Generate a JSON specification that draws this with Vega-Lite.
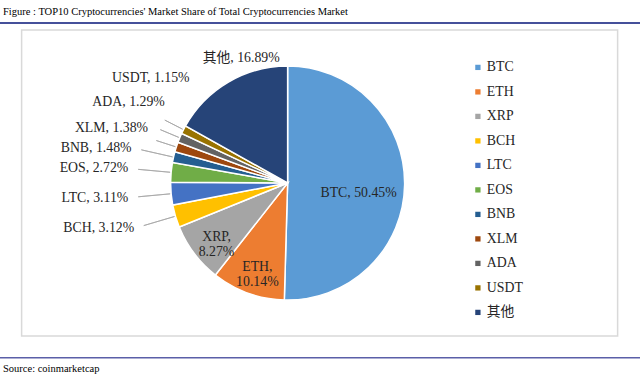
{
  "$schema": "https://vega.github.io/schema/vega-lite/v6.json",
  "background": "white",
  "padding": {"left": 0, "right": 0, "top": 6, "bottom": 0},
  "config": {"view": {"stroke": null}, "font": "Liberation Serif"},
  "title": {"text": "Figure : TOP10 Cryptocurrencies' Market Share of Total Cryptocurrencies Market", "anchor": "start", "frame": "bounds", "dx": 3, "fontSize": 10.5, "fontWeight": "normal", "font": "Liberation Serif", "color": "#000000", "offset": 5},
  "data": {"values": [
    {"name": "BTC", "share": 50.45, "rank": 1, "label": "BTC, 50.45%"},
    {"name": "ETH", "share": 10.14, "rank": 2, "label": "ETH,\n10.14%"},
    {"name": "XRP", "share": 8.27, "rank": 3, "label": "XRP,\n8.27%"},
    {"name": "BCH", "share": 3.12, "rank": 4, "label": "BCH, 3.12%"},
    {"name": "LTC", "share": 3.11, "rank": 5, "label": "LTC, 3.11%"},
    {"name": "EOS", "share": 2.72, "rank": 6, "label": "EOS, 2.72%"},
    {"name": "BNB", "share": 1.48, "rank": 7, "label": "BNB, 1.48%"},
    {"name": "XLM", "share": 1.38, "rank": 8, "label": "XLM, 1.38%"},
    {"name": "ADA", "share": 1.29, "rank": 9, "label": "ADA, 1.29%"},
    {"name": "USDT", "share": 1.15, "rank": 10, "label": "USDT, 1.15%"},
    {"name": "其他", "share": 16.89, "rank": 11, "label": "其他, 16.89%"}
  ]},
  "spacing": 5,
  "vconcat": [
    {
      "width": 640, "height": 2,
      "view": {"fill": "#45509a", "stroke": null},
      "mark": {"type": "point", "size": 0, "opacity": 0},
      "encoding": {}
    },
    {
      "spacing": 15,
      "center": true,
      "vconcat": [
        {
          "width": 596, "height": 306,
          "view": {"stroke": "#d9d9d9", "strokeWidth": 1.5, "fill": "white"},
          "layer": [
            {
              "mark": {"type": "arc", "radius": 117, "stroke": "white", "strokeWidth": 1.5, "xOffset": -32},
              "encoding": {
                "theta": {"field": "share", "type": "quantitative", "stack": true},
                "order": {"field": "rank", "type": "quantitative"},
                "color": {"field": "name", "type": "nominal",
                  "scale": {"domain": ["BTC", "ETH", "XRP", "BCH", "LTC", "EOS", "BNB", "XLM", "ADA", "USDT", "其他"],
                            "range": ["#5B9BD5", "#ED7D31", "#A5A5A5", "#FFC000", "#4472C4", "#70AD47", "#255E91", "#9E480E", "#636363", "#997300", "#264478"]},
                  "legend": {"title": null, "orient": "none", "legendX": 471, "legendY": 38.5, "symbolType": "square", "symbolSize": 28, "symbolStrokeWidth": 0, "labelFont": "Liberation Serif, Noto Sans CJK SC", "labelFontSize": 13.8, "labelColor": "#262626", "rowPadding": 9.5, "labelOffset": 2, "padding": 0}}
              }
            },
            {
              "mark": {"type": "arc", "radius": 150, "radius2": 118, "padAngle": 1.3, "fillOpacity": 0, "stroke": "#a6a6a6", "strokeWidth": 0.8, "xOffset": -32},
              "encoding": {
                "theta": {"field": "share", "type": "quantitative", "stack": true},
                "order": {"field": "rank", "type": "quantitative"},
                "detail": {"field": "name", "type": "nominal"},
                "strokeOpacity": {"condition": {"test": "indexof(['BCH','LTC','EOS','BNB'], datum.name) >= 0", "value": 1}, "value": 0}
              }
            },
            {
              "mark": {"type": "arc", "radius": 138, "radius2": 118, "padAngle": 1.3, "fillOpacity": 0, "stroke": "#a6a6a6", "strokeWidth": 0.8, "xOffset": -32},
              "encoding": {
                "theta": {"field": "share", "type": "quantitative", "stack": true},
                "order": {"field": "rank", "type": "quantitative"},
                "detail": {"field": "name", "type": "nominal"},
                "strokeOpacity": {"condition": {"test": "indexof(['XLM','ADA','USDT'], datum.name) >= 0", "value": 1}, "value": 0}
              }
            },
            {
              "mark": {"type": "text", "radius": 160, "align": "right", "baseline": "middle", "xOffset": -32, "fontSize": 13.8, "font": "Liberation Serif", "color": "#262626"},
              "encoding": {
                "theta": {"field": "share", "type": "quantitative", "stack": true},
                "order": {"field": "rank", "type": "quantitative"},
                "detail": {"field": "name", "type": "nominal"},
                "text": {"condition": {"test": "indexof(['BCH','LTC','EOS','BNB'], datum.name) >= 0", "field": "label", "type": "nominal"}, "value": ""}
              }
            },
            {
              "mark": {"type": "text", "radius": 150, "thetaOffset": 0.063, "align": "right", "baseline": "middle", "xOffset": -32, "fontSize": 13.8, "font": "Liberation Serif", "color": "#262626"},
              "encoding": {
                "theta": {"field": "share", "type": "quantitative", "stack": true},
                "order": {"field": "rank", "type": "quantitative"},
                "detail": {"field": "name", "type": "nominal"},
                "text": {"condition": {"test": "datum.name === 'XLM'", "field": "label", "type": "nominal"}, "value": ""}
              }
            },
            {
              "mark": {"type": "text", "radius": 147, "thetaOffset": 0.185, "align": "right", "baseline": "middle", "xOffset": -32, "fontSize": 13.8, "font": "Liberation Serif", "color": "#262626"},
              "encoding": {
                "theta": {"field": "share", "type": "quantitative", "stack": true},
                "order": {"field": "rank", "type": "quantitative"},
                "detail": {"field": "name", "type": "nominal"},
                "text": {"condition": {"test": "datum.name === 'ADA'", "field": "label", "type": "nominal"}, "value": ""}
              }
            },
            {
              "mark": {"type": "text", "radius": 143.6, "thetaOffset": 0.346, "align": "right", "baseline": "middle", "xOffset": -32, "fontSize": 13.8, "font": "Liberation Serif", "color": "#262626"},
              "encoding": {
                "theta": {"field": "share", "type": "quantitative", "stack": true},
                "order": {"field": "rank", "type": "quantitative"},
                "detail": {"field": "name", "type": "nominal"},
                "text": {"condition": {"test": "datum.name === 'USDT'", "field": "label", "type": "nominal"}, "value": ""}
              }
            },
            {
              "mark": {"type": "text", "radius": 71, "dy": 9, "align": "center", "baseline": "middle", "xOffset": -32, "fontSize": 13.8, "font": "Liberation Serif", "color": "#262626"},
              "encoding": {
                "theta": {"field": "share", "type": "quantitative", "stack": true},
                "order": {"field": "rank", "type": "quantitative"},
                "detail": {"field": "name", "type": "nominal"},
                "text": {"condition": {"test": "datum.name === 'BTC'", "field": "label", "type": "nominal"}, "value": ""}
              }
            },
            {
              "mark": {"type": "text", "radius": 89, "align": "center", "baseline": "middle", "lineBreak": "\n", "lineHeight": 15, "xOffset": -32, "fontSize": 13.8, "font": "Liberation Serif", "color": "#262626"},
              "encoding": {
                "theta": {"field": "share", "type": "quantitative", "stack": true},
                "order": {"field": "rank", "type": "quantitative"},
                "detail": {"field": "name", "type": "nominal"},
                "text": {"condition": {"test": "datum.name === 'ETH' || datum.name === 'XRP'", "field": "label", "type": "nominal"}, "value": ""}
              }
            },
            {
              "mark": {"type": "text", "radius": 145, "dx": 27, "align": "center", "baseline": "middle", "xOffset": -32, "fontSize": 13.8, "font": "Liberation Serif, Noto Sans CJK SC", "color": "#262626"},
              "encoding": {
                "theta": {"field": "share", "type": "quantitative", "stack": true},
                "order": {"field": "rank", "type": "quantitative"},
                "detail": {"field": "name", "type": "nominal"},
                "text": {"condition": {"test": "datum.name === '其他'", "field": "label", "type": "nominal"}, "value": ""}
              }
            }
          ]
        },
        {
          "width": 640, "height": 1.5,
          "view": {"fill": "#5a5fa8", "stroke": null},
          "title": {"text": "Source: coinmarketcap", "orient": "bottom", "anchor": "start", "frame": "bounds", "dx": 3, "offset": 5, "fontSize": 10.5, "fontWeight": "normal", "font": "Liberation Serif", "color": "#000000"},
          "mark": {"type": "point", "size": 0, "opacity": 0},
          "encoding": {}
        }
      ]
    }
  ]
}
